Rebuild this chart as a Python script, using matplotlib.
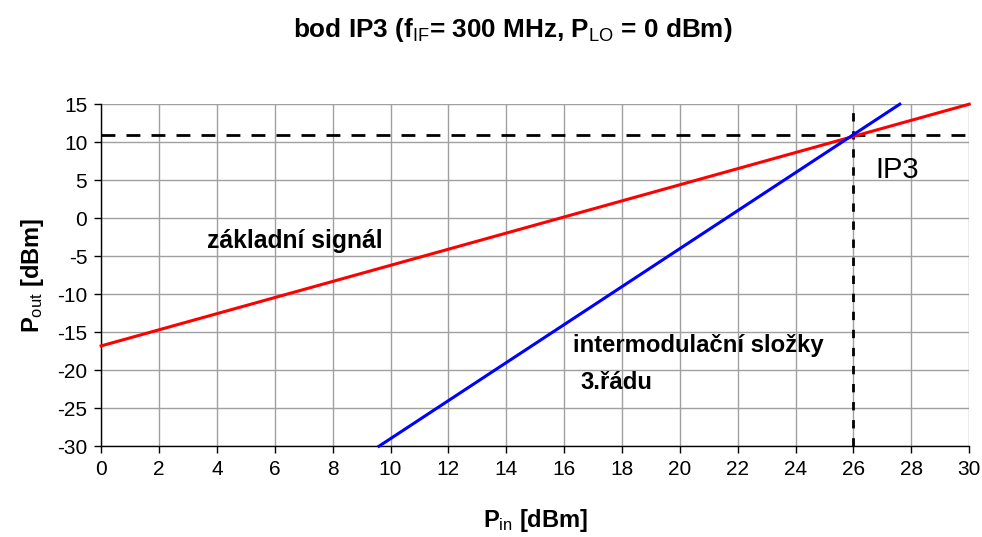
import matplotlib
matplotlib.use("Agg")
import matplotlib.pyplot as plt

plt.rcParams['font.family'] = ['Liberation Sans', 'DejaVu Sans']
plt.rcParams['mathtext.fontset'] = 'custom'
plt.rcParams['mathtext.rm'] = 'Liberation Sans'
plt.rcParams['mathtext.it'] = 'Liberation Sans'
plt.rcParams['mathtext.bf'] = 'Liberation Sans:bold'
plt.rcParams['axes.unicode_minus'] = False

# data
fund_x = [0, 30]
fund_y = [-16.8, 15.0]
im3_x = [9.6, 27.6]
im3_y = [-30.0, 15.0]
ip3_x = 26
ip3_y = 11
xticks = list(range(0, 31, 2))
yticks = list(range(-30, 16, 5))

fig = plt.figure(figsize=(9.82, 5.37), dpi=100)
ax = fig.add_axes([0.103, 0.169, 0.884, 0.637])

ax.set_xlim(0, 30)
ax.set_ylim(-30, 15)
ax.set_xticks(xticks)
ax.set_yticks(yticks)
ax.grid(True, color='#a0a0a0', linewidth=1.0)
ax.set_axisbelow(True)
for s in ['top', 'right']:
    ax.spines[s].set_visible(False)
for s in ['left', 'bottom']:
    ax.spines[s].set_color('black')
    ax.spines[s].set_linewidth(1.0)
ax.tick_params(direction='out', length=5, width=1, labelsize=15, pad=5)

ax.plot([0, 30], [ip3_y, ip3_y], color='black', linewidth=2, dashes=(5, 4), zorder=3)
ax.plot([ip3_x, ip3_x], [-30, 15], color='black', linewidth=2, dashes=(3, 3.5), zorder=3)

ax.plot(fund_x, fund_y, color='#ff0000', linewidth=2.2, zorder=4, clip_on=False)
ax.plot(im3_x, im3_y, color='#0000ff', linewidth=2.2, zorder=4, clip_on=False)

ax.text(3.65, -3.0, 'základní signál', fontsize=17.8, fontweight='bold', va='center', ha='left')
ax.text(16.3, -16.7, 'intermodulační složky', fontsize=17.2, fontweight='bold', va='center', ha='left')
ax.text(16.55, -21.6, '3.řádu', fontsize=17.2, fontweight='bold', va='center', ha='left')
ax.text(26.75, 6.3, 'IP3', fontsize=21, va='center', ha='left')

ax.set_xlabel(r'P$_{\rm in}$ [dBm]', fontsize=17, fontweight='bold', labelpad=20)
ax.set_ylabel(r'P$_{\rm out}$ [dBm]', fontsize=17, fontweight='bold', labelpad=8)

fig.text(0.522, 0.944, r'bod IP3 (f$_{\rm IF}$= 300 MHz, P$_{\rm LO}$ = 0 dBm)',
         fontsize=18.8, fontweight='bold', ha='center', va='center')

fig.savefig('out.png', dpi=100)
